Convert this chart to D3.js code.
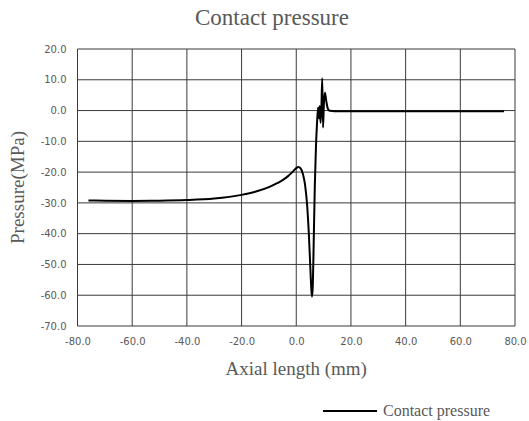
<!DOCTYPE html>
<html>
<head>
<meta charset="utf-8">
<script src="https://cdnjs.cloudflare.com/ajax/libs/d3/7.8.5/d3.min.js"></script>
<style>
  body { margin: 0; background: #fff; }
  .tick text { font-family: "DejaVu Sans", sans-serif; font-size: 10px; fill: #595959; }
</style>
</head>
<body>
<div id="chart"></div>
<script>
// chart size
var svgWidth = 529;
var svgHeight = 421;

var margin = { top: 49, right: 14, bottom: 95, left: 77.5 };
var width = svgWidth - margin.left - margin.right;
var height = svgHeight - margin.top - margin.bottom;

// data
var axialLength = [-76, -70, -60, -50, -40, -30, -20, -15, -10, -7, -5, -3, -2, -1, 0, 0.8, 1.6, 2.4, 3.2, 4.0, 4.6, 5.1, 5.45, 5.75, 6.05, 6.4, 6.8, 7.2, 7.6, 8.0, 8.3, 8.6, 8.9, 9.2, 9.5, 9.8, 10.1, 10.5, 11.0, 11.6, 12.3, 14, 20, 40, 60, 76];
var pressure = [-29.2, -29.3, -29.35, -29.3, -29.1, -28.6, -27.4, -26.4, -24.9, -23.6, -22.6, -21.3, -20.5, -19.6, -18.7, -18.3, -18.8, -20.5, -24, -31, -40, -50, -57, -60.5, -57, -42, -24, -12, -4, 1, -2.5, 1.5, -4, 1, 10.5, -5.5, 2, 5.8, 3, 0.5, -0.1, -0.2, -0.2, -0.2, -0.2, -0.2];
var xTicks = [-80, -60, -40, -20, 0, 20, 40, 60, 80];
var yTicks = [20, 10, 0, -10, -20, -30, -40, -50, -60, -70];

var data = axialLength.map((d, i) => ({ x: d, y: pressure[i] }));

// plain hyphen instead of the unicode minus
var fmt = d => d.toFixed(1);

var svg = d3.select("#chart")
    .append("svg")
    .attr("width", svgWidth)
    .attr("height", svgHeight);

var chartGroup = svg.append("g")
    .attr("transform", `translate(${margin.left}, ${margin.top})`);

var xScale = d3.scaleLinear().domain([-80, 80]).range([0, width]);
var yScale = d3.scaleLinear().domain([-70, 20]).range([height, 0]);

// gridlines
chartGroup.selectAll(".vgrid")
    .data(xTicks)
    .enter()
    .append("line")
    .attr("x1", d => xScale(d)).attr("x2", d => xScale(d))
    .attr("y1", 0).attr("y2", height)
    .attr("stroke", "#3a3a3a")
    .attr("stroke-width", 1);

chartGroup.selectAll(".hgrid")
    .data(yTicks)
    .enter()
    .append("line")
    .attr("x1", 0).attr("x2", width)
    .attr("y1", d => yScale(d)).attr("y2", d => yScale(d))
    .attr("stroke", "#3a3a3a")
    .attr("stroke-width", 1);

// axes (labels only)
var bottomAxis = d3.axisBottom(xScale).tickValues(xTicks).tickFormat(fmt).tickSize(0).tickPadding(12);
var leftAxis = d3.axisLeft(yScale).tickValues(yTicks).tickFormat(fmt).tickSize(0).tickPadding(11);

var xAxis = chartGroup.append("g")
    .attr("transform", `translate(0, ${height})`)
    .call(bottomAxis);
xAxis.select(".domain").remove();

var yAxis = chartGroup.append("g").call(leftAxis);
yAxis.select(".domain").remove();

// the curve
var line = d3.line()
    .x(d => xScale(d.x))
    .y(d => yScale(d.y))
    .curve(d3.curveMonotoneX);

chartGroup.append("path")
    .datum(data)
    .attr("d", line)
    .attr("fill", "none")
    .attr("stroke", "#000")
    .attr("stroke-width", 2);

// title
svg.append("text")
    .attr("x", 272)
    .attr("y", 25)
    .attr("text-anchor", "middle")
    .attr("font-family", "Liberation Serif, serif")
    .attr("font-size", 23)
    .attr("fill", "#595959")
    .text("Contact pressure");

// axis titles
svg.append("text")
    .attr("x", margin.left + xScale(0))
    .attr("y", 375)
    .attr("text-anchor", "middle")
    .attr("font-family", "Liberation Serif, serif")
    .attr("font-size", 19)
    .attr("fill", "#595959")
    .text("Axial length (mm)");

svg.append("text")
    .attr("transform", "rotate(-90)")
    .attr("x", -187.5)
    .attr("y", 24)
    .attr("text-anchor", "middle")
    .attr("font-family", "Liberation Serif, serif")
    .attr("font-size", 19)
    .attr("fill", "#595959")
    .text("Pressure(MPa)");

// legend
var legend = svg.append("g").attr("transform", "translate(323, 411)");
legend.append("line")
    .attr("x1", 0).attr("x2", 54)
    .attr("y1", 0).attr("y2", 0)
    .attr("stroke", "#000")
    .attr("stroke-width", 2);
legend.append("text")
    .attr("x", 60)
    .attr("y", 5)
    .attr("font-family", "Liberation Serif, serif")
    .attr("font-size", 16)
    .attr("fill", "#595959")
    .text("Contact pressure");
</script>
</body>
</html>
